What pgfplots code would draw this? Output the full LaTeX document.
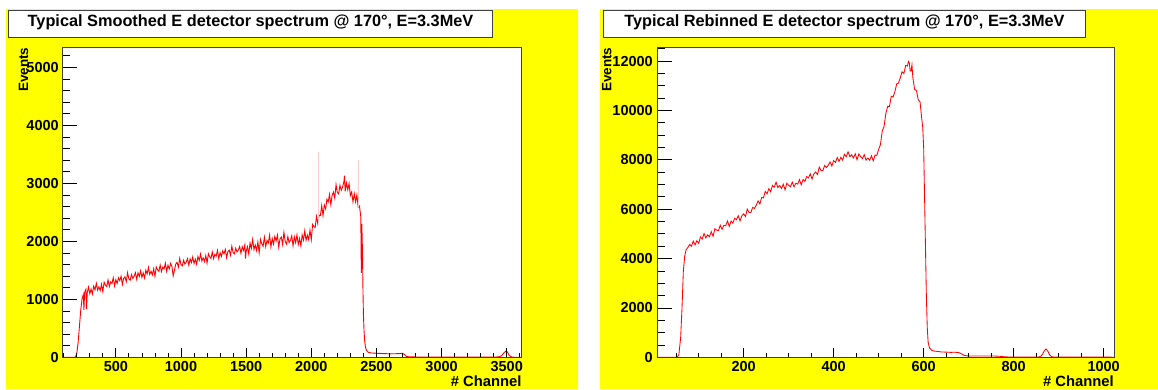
\documentclass[border=0pt]{standalone}
\usepackage{pgfplots}
\pgfplotsset{compat=1.18}
\usepackage{pgfplotstable}
\usepackage{fontspec}
\setmainfont{Liberation Sans}
\definecolor{rootyellow}{RGB}{255,255,0}
\definecolor{rootred}{RGB}{255,0,0}

\pgfplotstableread{
x y
92 0
150 0
185 0
190 5
200 60
210 250
220 520
230 800
240 1000
250 1080
255 820
260 1110
265 1150
270 1172
275 830
280 1110
290 1209
300 1097
310 1175
320 1092
330 1226
340 1164
350 1276
360 1158
370 1215
380 1153
390 1259
400 1133
410 1295
420 1247
430 1220
440 1333
450 1221
460 1299
470 1272
480 1371
490 1232
500 1338
510 1274
520 1371
530 1322
540 1398
550 1257
560 1361
570 1388
580 1304
590 1457
600 1351
610 1329
620 1426
630 1363
640 1397
650 1459
660 1346
670 1457
680 1394
690 1491
700 1378
710 1454
720 1369
730 1502
740 1438
750 1549
760 1429
770 1484
780 1421
790 1525
800 1398
810 1558
820 1508
830 1480
840 1591
850 1478
860 1554
870 1525
880 1623
890 1482
900 1586
910 1522
920 1619
930 1570
940 1403
950 1505
960 1609
970 1636
980 1552
990 1705
1000 1599
1010 1576
1020 1672
1030 1608
1040 1641
1050 1702
1060 1588
1070 1698
1080 1634
1090 1730
1100 1616
1110 1691
1120 1605
1130 1737
1140 1672
1150 1782
1160 1661
1170 1715
1180 1651
1190 1754
1200 1626
1210 1785
1220 1734
1230 1705
1240 1815
1250 1701
1260 1776
1270 1746
1280 1843
1290 1701
1300 1804
1310 1739
1320 1835
1330 1785
1340 1860
1350 1718
1360 1821
1370 1847
1380 1762
1390 1914
1400 1807
1410 1784
1420 1880
1430 1816
1440 1849
1450 1910
1460 1796
1470 1906
1480 1842
1490 1938
1495 1700
1500 1824
1510 1907
1520 1783
1530 1970
1540 1876
1550 2033
1560 1859
1570 1936
1580 1842
1590 1989
1600 1805
1610 2032
1620 1958
1630 1915
1640 2071
1650 1908
1660 2014
1670 1971
1680 2107
1690 1904
1700 2050
1710 1952
1720 2084
1730 2006
1740 2108
1750 1900
1760 2042
1770 2074
1780 1945
1790 2155
1800 1994
1810 1952
1820 2080
1830 1978
1840 2016
1850 2095
1860 1925
1870 2076
1880 1978
1890 2110
1900 1944
1910 2048
1920 1923
1930 2110
1940 2020
1950 2182
1960 2018
1970 2106
1980 2028
1990 2192
2000 2030
2010 2290
2020 2250
2030 2240
2040 2430
2050 2305
2060 2450
2070 2445
2080 2615
2090 2445
2100 2625
2110 2560
2120 2725
2130 2680
2140 2810
2150 2630
2160 2795
2170 2850
2180 2745
2190 2978
2200 2838
2210 2818
2220 2965
2230 2880
2240 2935
2250 3025
2255 3130
2260 2860
2270 3005
2280 2890
2290 2995
2300 2790
2310 2850
2320 2680
2330 2820
2340 2680
2350 2800
2360 2590
2370 2610
2380 2420
2384 1455
2388 2300
2393 1800
2397 1100
2400 750
2405 450
2410 280
2415 190
2420 140
2430 100
2440 85
2460 75
2500 70
2550 65
2600 60
2650 62
2680 65
2700 68
2715 50
2730 15
2750 8
2800 6
2900 5
3000 4
3200 3
3400 3
3440 8
3460 25
3480 80
3495 110
3505 90
3520 30
3540 5
3560 0
3615 0
}\leftdata

\pgfplotstableread{
x y
9 0
52 0
56 100
60 800
63 2000
66 3500
69 4100
72 4350
76 4450
80 4572
84 4502
88 4708
92 4554
96 4724
100 4618
104 4874
108 4794
112 5014
116 4838
120 4962
124 4882
128 5090
132 4902
136 5206
140 5150
144 5130
148 5350
152 5186
156 5346
160 5326
164 5522
168 5310
172 5518
176 5438
180 5634
184 5578
188 5738
192 5526
196 5734
200 5810
204 5704
208 6006
212 5864
216 5866
220 6072
224 6032
228 6160
232 6336
236 6212
240 6472
244 6459
248 6721
252 6624
256 6834
260 6708
264 6964
268 6894
272 7094
276 6878
280 6962
284 6842
288 7010
292 6785
296 7055
300 6965
304 6910
308 7096
312 6905
316 7051
320 7017
324 7199
328 6992
332 7202
336 7125
340 7323
344 7269
348 7431
352 7222
356 7432
360 7510
364 7404
368 7706
372 7564
376 7566
380 7772
384 7692
388 7780
392 7916
396 7752
400 7972
404 7896
408 8096
412 7936
416 8100
420 7988
424 8224
428 8124
432 8324
436 8128
440 8206
444 8081
448 8243
452 8003
456 8239
460 8130
464 8050
468 8210
472 7989
476 8072
480 7983
484 8165
488 7958
492 8198
496 8178
500 8434
504 8618
508 9168
512 9356
516 9884
520 10160
524 10164
528 10576
532 10544
536 10756
540 11072
544 11112
548 11320
552 11566
556 11502
560 11822
564 11802
566 11990
568 11938
570 11600
572 11604
574 11850
576 11324
580 10848
584 10804
588 10434
592 10344
596 9628
598 9300
600 8500
602 6500
604 4500
606 2500
608 1200
610 600
613 380
618 280
624 250
630 240
640 215
650 210
660 200
670 205
678 190
684 140
690 80
696 60
700 55
730 52
760 50
770 40
780 20
790 12
855 10
860 40
864 120
868 260
872 340
876 250
880 90
885 20
890 10
1023 5
}\rightdata

\pgfplotsset{
  spec/.style={
    scale only axis,
    height=310pt,
    anchor=south west,
    axis line style={black!75, line width=0.8pt},
    tick style={black, line width=0.8pt},
    tick align=inside,
    xtick pos=bottom, ytick pos=left,
    scaled ticks=false,
    /pgf/number format/assume math mode=true,
    /pgf/number format/1000 sep={},
    /pgf/number format/fixed,
    ticklabel style={font=\bfseries\fontsize{14.5}{16}\selectfont},
    xticklabel style={inner sep=0pt, yshift=-3.7pt},
    yticklabel style={inner sep=0pt, xshift=-3.8pt},
  },
  yaxispart/.style={spec, xtick=\empty,
    axis background/.style={fill=white},
    major tick length=14.5pt, minor tick length=7pt},
  xaxispart/.style={spec, ytick=\empty,
    major tick length=9pt, minor tick length=4.7pt},
}

\begin{document}
\begin{tikzpicture}[x=1pt,y=1pt]
\path[use as bounding box] (0,0) rectangle (1158,389);
\fill[rootyellow] (6,0) rectangle (578,380);
\fill[rootyellow] (600,0) rectangle (1158,380);

% left panel: data and y ticks
\begin{axis}[yaxispart, at={(62.7pt,31.7pt)}, width=459pt,
  xmin=92, xmax=3615, ymin=0, ymax=5345,
  ytick={0,1000,...,5000},
  minor ytick={200,400,...,5200}]
\addplot[rootred, line width=0.9pt] table[x=x,y=y] {\leftdata};
\addplot[rootred!20, line width=0.3pt] coordinates {(2051,2300) (2051,3545)};
\addplot[rootred!20, line width=0.3pt] coordinates {(2358,2600) (2358,3400)};
\end{axis}
% left panel: x ticks
\begin{axis}[xaxispart, at={(62.7pt,31.7pt)}, width=459pt,
  xmin=92, xmax=3615, ymin=0, ymax=5345,
  xtick={500,1000,...,3500},
  minor xtick={100,200,...,3600}]
\end{axis}

% right panel: data and y ticks
\begin{axis}[yaxispart, at={(657.7pt,31.7pt)}, width=456.3pt,
  xmin=9, xmax=1023, ymin=0, ymax=12560,
  ytick={0,2000,...,12000},
  minor ytick={500,1000,...,12500},
  yticklabel style={xshift=-0.9pt}]
\addplot[rootred, line width=0.85pt] table[x=x,y=y] {\rightdata};
\end{axis}
% right panel: x ticks
\begin{axis}[xaxispart, at={(657.7pt,31.7pt)}, width=456.3pt,
  xmin=9, xmax=1023, ymin=0, ymax=12560,
  xtick={200,400,...,1000},
  minor xtick={50,100,...,1000}]
\end{axis}

% titles
\draw[fill=white, draw=black!75, line width=0.9pt] (8.7,351.7) rectangle (492.3,379);
\node[anchor=base, font=\bfseries\fontsize{16.3}{18}\selectfont, inner sep=0pt] at (250.5,362.3) {Typical Smoothed E detector spectrum @ 170°, E=3.3MeV};
\draw[fill=white, draw=black!75, line width=0.9pt] (603.3,351.7) rectangle (1085.7,379);
\node[anchor=base, font=\bfseries\fontsize{16.3}{18}\selectfont, inner sep=0pt] at (844.5,362.3) {Typical Rebinned E detector spectrum @ 170°, E=3.3MeV};

% axis labels
\node[rotate=90, anchor=east, inner sep=0pt, font=\bfseries\fontsize{13.5}{15}\selectfont] at (23.5,341.5) {Events};
\node[rotate=90, anchor=east, inner sep=0pt, font=\bfseries\fontsize{13.5}{15}\selectfont] at (606.7,341.5) {Events};
\node[anchor=base east, inner sep=0pt, font=\bfseries\fontsize{14.8}{16}\selectfont] at (521.7,2.5) {\# Channel};
\node[anchor=base east, inner sep=0pt, font=\bfseries\fontsize{14.8}{16}\selectfont] at (1114,2.5) {\# Channel};
\end{tikzpicture}
\end{document}
